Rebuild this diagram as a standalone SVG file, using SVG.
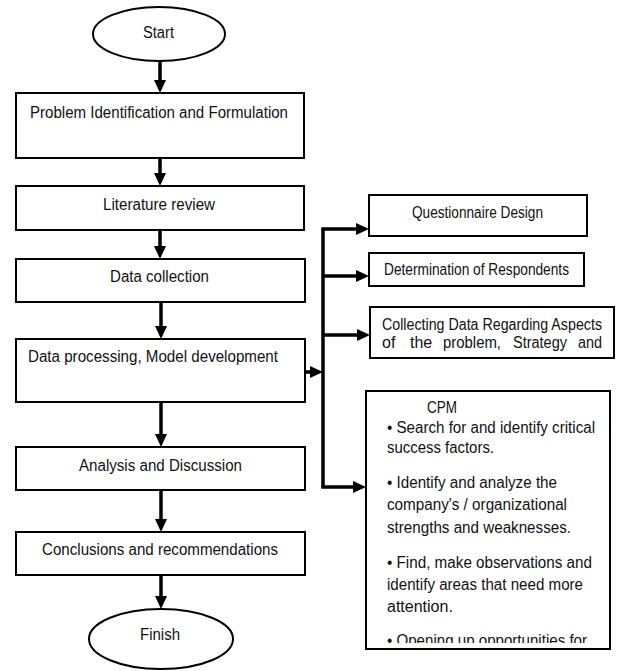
<svg xmlns="http://www.w3.org/2000/svg" width="617" height="671" viewBox="0 0 617 671">
  <style>
    .box { fill: #fff; stroke: #000; stroke-width: 2; }
    .lbl { font-family: "Liberation Sans", Arial, sans-serif; font-size: 16px; fill: #111; }
    .mid { text-anchor: middle; }
    .conn { fill: none; stroke: #000; stroke-width: 3.5; stroke-linejoin: miter; }
  </style>
  <defs>
    <marker id="head" viewBox="0 0 13 12" markerWidth="13" markerHeight="12" markerUnits="userSpaceOnUse" refX="5" refY="6" orient="auto">
      <path d="M0,0 L13,6 L0,12 Z" fill="#000"/>
    </marker>
    <clipPath id="clipCollect"><rect x="370" y="307" width="244" height="45"/></clipPath>
    <clipPath id="clipCpm"><rect x="366" y="391" width="244" height="252"/></clipPath>
  </defs>
  <rect width="617" height="671" fill="#fff"/>

  <!-- main flow -->
  <g id="start">
    <ellipse class="box" cx="159" cy="34" rx="66" ry="27"/>
    <text class="lbl mid" x="158.5" y="38" textLength="31" lengthAdjust="spacingAndGlyphs">Start</text>
  </g>
  <g id="problem">
    <rect class="box" x="16" y="93" width="288" height="65"/>
    <text class="lbl" x="30" y="118" textLength="258" lengthAdjust="spacingAndGlyphs">Problem Identification and Formulation</text>
  </g>
  <g id="literature">
    <rect class="box" x="16" y="186" width="288" height="44"/>
    <text class="lbl" x="103" y="210" textLength="112" lengthAdjust="spacingAndGlyphs">Literature review</text>
  </g>
  <g id="collection">
    <rect class="box" x="16" y="259" width="289" height="43"/>
    <text class="lbl" x="110" y="282" textLength="99" lengthAdjust="spacingAndGlyphs">Data collection</text>
  </g>
  <g id="processing">
    <rect class="box" x="16" y="339" width="289" height="63"/>
    <text class="lbl" x="28" y="362" textLength="250" lengthAdjust="spacingAndGlyphs">Data processing, Model development</text>
  </g>
  <g id="analysis">
    <rect class="box" x="16" y="447" width="289" height="43"/>
    <text class="lbl" x="79" y="471" textLength="163" lengthAdjust="spacingAndGlyphs">Analysis and Discussion</text>
  </g>
  <g id="conclusions">
    <rect class="box" x="16" y="532" width="289" height="43"/>
    <text class="lbl" x="42" y="555" textLength="236" lengthAdjust="spacingAndGlyphs">Conclusions and recommendations</text>
  </g>
  <g id="finish">
    <ellipse class="box" cx="161" cy="639" rx="72" ry="30"/>
    <text class="lbl" x="140" y="640" textLength="40" lengthAdjust="spacingAndGlyphs">Finish</text>
  </g>

  <!-- side activities -->
  <g id="questionnaire">
    <rect class="box" x="369" y="195" width="218" height="41"/>
    <text class="lbl" x="412" y="218" textLength="131" lengthAdjust="spacingAndGlyphs">Questionnaire Design</text>
  </g>
  <g id="respondents">
    <rect class="box" x="369" y="253" width="215" height="33"/>
    <text class="lbl" x="384" y="275" textLength="185" lengthAdjust="spacingAndGlyphs">Determination of Respondents</text>
  </g>
  <g id="collecting">
    <rect class="box" x="370" y="307" width="244" height="51"/>
    <text class="lbl" x="382" y="330" textLength="220" lengthAdjust="spacingAndGlyphs">Collecting Data Regarding Aspects</text>
    <!-- second line is justified word by word and cut at the box's lower text edge -->
    <g clip-path="url(#clipCollect)">
      <text class="lbl" x="382" y="348">of</text>
      <text class="lbl" x="410" y="348">the</text>
      <text class="lbl" x="443" y="348" textLength="58" lengthAdjust="spacingAndGlyphs">problem,</text>
      <text class="lbl" x="513" y="348" textLength="54" lengthAdjust="spacingAndGlyphs">Strategy</text>
      <text class="lbl" x="578" y="348" textLength="24" lengthAdjust="spacingAndGlyphs">and</text>
    </g>
  </g>
  <g id="cpm">
    <rect class="box" x="366" y="391" width="244" height="258"/>
    <g clip-path="url(#clipCpm)">
      <text class="lbl" x="427" y="413" textLength="30" lengthAdjust="spacingAndGlyphs">CPM</text>
      <text class="lbl" x="387" y="433" textLength="208" lengthAdjust="spacingAndGlyphs">• Search for and identify critical</text>
      <text class="lbl" x="387" y="453" textLength="107" lengthAdjust="spacingAndGlyphs">success factors.</text>
      <text class="lbl" x="387" y="488" textLength="170" lengthAdjust="spacingAndGlyphs">• Identify and analyze the</text>
      <text class="lbl" x="387" y="510" textLength="180" lengthAdjust="spacingAndGlyphs">company's / organizational</text>
      <text class="lbl" x="387" y="533" textLength="184" lengthAdjust="spacingAndGlyphs">strengths and weaknesses.</text>
      <text class="lbl" x="387" y="568" textLength="205" lengthAdjust="spacingAndGlyphs">• Find, make observations and</text>
      <text class="lbl" x="387" y="590" textLength="196" lengthAdjust="spacingAndGlyphs">identify areas that need more</text>
      <text class="lbl" x="387" y="612">attention.</text>
      <text class="lbl" x="387" y="646" textLength="200" lengthAdjust="spacingAndGlyphs">• Opening up opportunities for</text>
    </g>
  </g>

  <!-- connectors -->
  <g id="connectors">
    <line class="conn" x1="160" y1="61" x2="160" y2="85" marker-end="url(#head)"/>
    <line class="conn" x1="160" y1="158" x2="160" y2="178" marker-end="url(#head)"/>
    <line class="conn" x1="160" y1="230" x2="160" y2="251" marker-end="url(#head)"/>
    <line class="conn" x1="161" y1="302" x2="161" y2="331" marker-end="url(#head)"/>
    <line class="conn" x1="161" y1="402" x2="161" y2="439" marker-end="url(#head)"/>
    <line class="conn" x1="161" y1="490" x2="161" y2="524" marker-end="url(#head)"/>
    <line class="conn" x1="161" y1="575" x2="161" y2="601" marker-end="url(#head)"/>
    <line class="conn" x1="305" y1="372" x2="315" y2="372" marker-end="url(#head)"/>
    <path class="conn" d="M323,229 L323,487"/>
    <line class="conn" x1="321.25" y1="229" x2="361" y2="229" marker-end="url(#head)"/>
    <line class="conn" x1="323" y1="276" x2="361" y2="276" marker-end="url(#head)"/>
    <line class="conn" x1="323" y1="335" x2="362" y2="335" marker-end="url(#head)"/>
    <line class="conn" x1="321.25" y1="487" x2="358" y2="487" marker-end="url(#head)"/>
  </g>
</svg>
